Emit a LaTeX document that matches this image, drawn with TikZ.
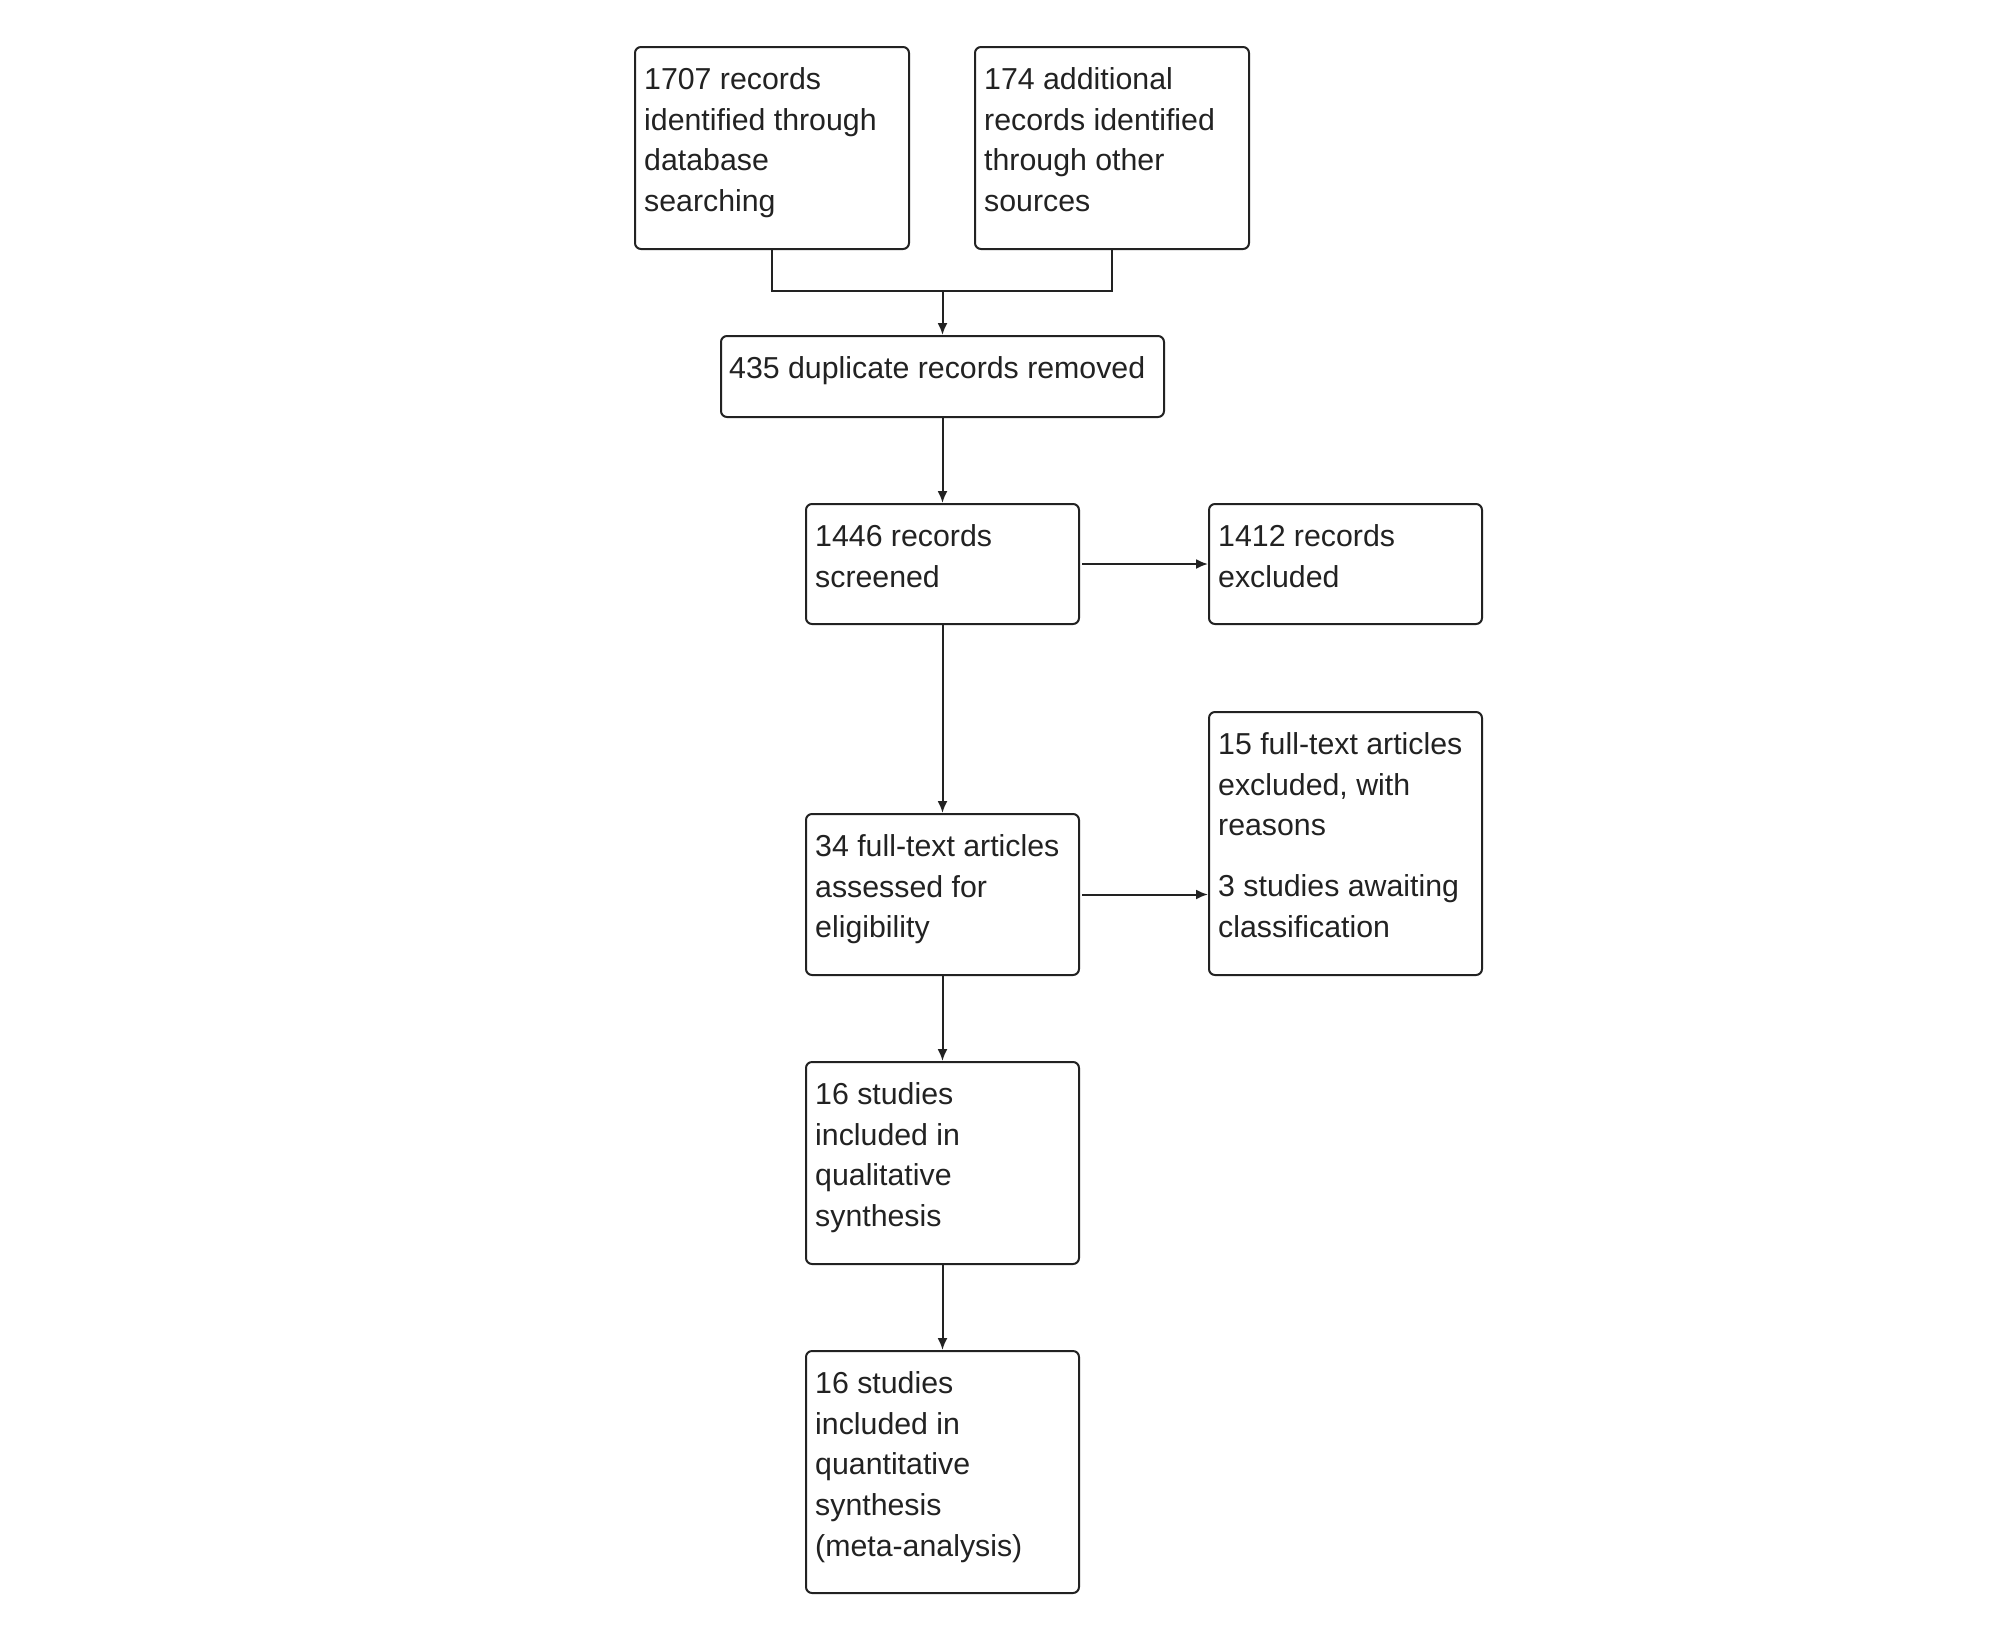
\documentclass[tikz,border=0pt]{standalone}
\usepackage{fontspec}
\setmainfont{Liberation Sans}
\usetikzlibrary{arrows.meta}
\definecolor{ink}{HTML}{222222}
\tikzset{
  box/.style={draw=ink, line width=2pt, rounded corners=6pt, inner sep=0pt, anchor=north west},
  txt/.style={anchor=north west, inner sep=0pt, align=left, text=ink, font=\fontsize{30.3}{40.8}\selectfont},
  conn/.style={draw=ink, line width=2pt},
  arr/.style={conn, -{Latex[length=12pt,width=10pt]}}
}
\newcommand{\st}{\rule{0pt}{30pt}}
\begin{document}
\begin{tikzpicture}[x=1pt,y=-1pt]
\useasboundingbox (0,0) rectangle (1999,1647);
\fill[white] (0,0) rectangle (1999,1647);
% boxes
\node[box, minimum width=274pt, minimum height=202pt] (a) at (634,46) {};
\node[box, minimum width=274pt, minimum height=202pt] (b) at (974,46) {};
\node[box, minimum width=443pt, minimum height=81pt] (c) at (720,335) {};
\node[box, minimum width=273pt, minimum height=120pt] (d) at (805,503) {};
\node[box, minimum width=273pt, minimum height=120pt] (e) at (1208,503) {};
\node[box, minimum width=273pt, minimum height=161pt] (f) at (805,813) {};
\node[box, minimum width=273pt, minimum height=263pt] (g) at (1208,711) {};
\node[box, minimum width=273pt, minimum height=202pt] (h) at (805,1061) {};
\node[box, minimum width=273pt, minimum height=242pt] (i) at (805,1350) {};
% texts
\node[txt] (ta) at (644,59) {\st 1707 records\\identified through\\database\\searching};
\node[txt] (tb) at (984,59) {\st 174 additional\\records identified\\through other\\sources};
\node[txt] (tc) at (729,348) {\st 435 duplicate records removed};
\node[txt] (td) at (815,516) {\st 1446 records\\screened};
\node[txt] (te) at (1218,516) {\st 1412 records\\excluded};
\node[txt] (tf) at (815,826) {\st 34 full-text articles\\assessed for\\eligibility};
\node[txt] (tg) at (1218,724) {\st 15 full-text articles\\excluded, with\\reasons\\[20pt]3 studies awaiting\\classification};
\node[txt] (th) at (815,1074) {\st 16 studies\\included in\\qualitative\\synthesis};
\node[txt] (ti) at (815,1363) {\st 16 studies\\included in\\quantitative\\synthesis\\(meta-analysis)};
% connectors
\coordinate (m) at (c.north |- 0,291);
\draw[conn] (a.south) |- (m) -| (b.south);
\draw[arr] (m) -- (c.north);
\draw[arr] (c.south) -- (d.north);
\draw[arr, shorten <=2pt] (d.east) -- (e.west);
\draw[arr] (d.south) -- (f.north);
\draw[arr, shorten <=2pt] (f.east) -- (g.west |- f.east);
\draw[arr] (f.south) -- (h.north);
\draw[arr] (h.south) -- (i.north);
\end{tikzpicture}
\end{document}
